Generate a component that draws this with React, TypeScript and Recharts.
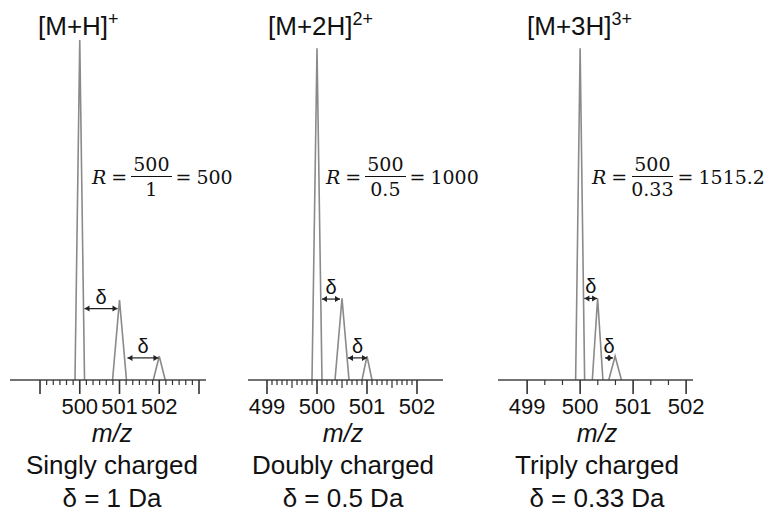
import React from "react"
import { LineChart, Line, XAxis, YAxis, ReferenceLine } from "recharts"

// ── Peaks: m/z position, relative intensity, half width (Da) ──
const PEAK_MZ_1 = [500, 501, 502]
const PEAK_INT_1 = [100, 23.5, 7]
const PEAK_HW_1 = [0.12, 0.175, 0.15]

const PEAK_MZ_2 = [500, 500.5, 501]
const PEAK_INT_2 = [97.6, 24, 7]
const PEAK_HW_2 = [0.1, 0.14, 0.1]

const PEAK_MZ_3 = [500, 500.33, 500.66]
const PEAK_INT_3 = [97.6, 24, 7]
const PEAK_HW_3 = [0.085, 0.1, 0.12]

// ── δ arrows: from m/z, to m/z, height ──
const ARROW_FROM_1 = [500.12, 501.2]
const ARROW_TO_1 = [500.95, 501.98]
const ARROW_Y_1 = [21, 6.5]

const ARROW_FROM_2 = [500.1, 500.62]
const ARROW_TO_2 = [500.46, 501.0]
const ARROW_Y_2 = [23.8, 6.5]

const ARROW_FROM_3 = [500.08, 500.47]
const ARROW_TO_3 = [500.32, 500.62]
const ARROW_Y_3 = [24, 6.5]

// ── Axes ──
const MAJOR_1 = [499, 500, 501, 502, 503]
const LABELS_1 = ["500", "501", "502"]
const MAJOR_2 = [499, 500, 501, 502]
const LABELS_2 = ["499", "500", "501", "502"]
const MAJOR_3 = [499, 500, 501, 502]
const LABELS_3 = ["499", "500", "501", "502"]

const TITLES = ["[M+H]", "[M+2H]", "[M+3H]"]
const CHARGES = ["+", "2+", "3+"]
const DENOMS = ["1", "0.5", "0.33"]
const RESOLUTIONS = ["500", "1000", "1515.2"]
const KINDS = ["Singly charged", "Doubly charged", "Triply charged"]
const DELTAS = ["δ = 1 Da", "δ = 0.5 Da", "δ = 0.33 Da"]

const PEAK_COLOR = "#8a8a8a"
const INK = "#111"
const SANS = "'Liberation Sans', Arial, sans-serif"

function buildTicks(majors: number[], sub: number) {
  const out: number[] = []
  for (let i = 0; i < majors.length - 1; i++) {
    for (let k = 0; k < sub; k++) out.push(+(majors[i] + k / sub).toFixed(4))
  }
  out.push(majors[majors.length - 1])
  return out
}

function peakPoints(mz: number[], int: number[], hw: number[]) {
  const pts: { mz: number; y: number | null }[] = []
  mz.forEach((m, i) => {
    if (i > 0) pts.push({ mz: (mz[i - 1] + m) / 2, y: null })
    pts.push({ mz: m - hw[i], y: 0 }, { mz: m, y: int[i] }, { mz: m + hw[i], y: 0 })
  })
  return pts
}

const ArrowShape = (props: any) => {
  const { x1, y1, x2 } = props
  const y = y1
  const h = 5
  return (
    <g>
      <line x1={x1} y1={y} x2={x2} y2={y} stroke="#222" strokeWidth={1.2} />
      <polygon points={`${x1},${y} ${x1 + h},${y - 3} ${x1 + h},${y + 3}`} fill="#222" />
      <polygon points={`${x2},${y} ${x2 - h},${y - 3} ${x2 - h},${y + 3}`} fill="#222" />
      <text x={(x1 + x2) / 2} y={y - 5} textAnchor="middle" fontSize={20} fontFamily={SANS} fill={INK}>
        δ
      </text>
    </g>
  )
}

const PAD_L = 20
const PAD_R = 30

function Spectrum({ left, width, domain, majors, labels, sub, mz, int, hw, from, to, ay }: any) {
  const data = peakPoints(mz, int, hw)
  const ticks = buildTicks(majors, sub)
  const renderTick = (p: any) => {
    const v = p.payload.value
    const major = Math.abs(v - Math.round(v)) < 1e-6
    const half = sub === 10 && Math.abs(v - Math.floor(v) - 0.5) < 1e-6
    const len = major ? 14 : half ? 8 : 5
    const label = String(Math.round(v))
    return (
      <g>
        <line x1={p.x} y1={p.y} x2={p.x} y2={p.y + len} stroke="#333" strokeWidth={major ? 1.6 : 1.2} />
        {major && labels.includes(label) && (
          <text x={p.x} y={p.y + 34} textAnchor="middle" fontSize={22} fontFamily={SANS} fill={INK}>
            {label}
          </text>
        )}
      </g>
    )
  }
  return (
    <div style={{ position: "absolute", left: left - PAD_L, top: 0 }}>
      <LineChart
        width={width + PAD_L + PAD_R}
        height={512}
        data={data}
        margin={{ top: 40, right: PAD_R, bottom: 102, left: PAD_L }}
      >
        <XAxis
          dataKey="mz"
          type="number"
          domain={domain}
          allowDataOverflow
          ticks={ticks}
          interval={0}
          tickSize={0}
          tickMargin={0}
          tickLine={false}
          tick={renderTick}
          height={30}
          axisLine={{ stroke: "#444", strokeWidth: 1.5 }}
        />
        <YAxis hide domain={[0, 100]} />
        <Line
          dataKey="y"
          type="linear"
          stroke={PEAK_COLOR}
          strokeWidth={1.6}
          dot={false}
          activeDot={false}
          isAnimationActive={false}
        />
        {from.map((f: number, i: number) => (
          <ReferenceLine
            key={i}
            segment={[{ x: f, y: ay[i] }, { x: to[i], y: ay[i] }]}
            shape={ArrowShape}
          />
        ))}
      </LineChart>
    </div>
  )
}

function Formula({ left, denom, result }: { left: number; denom: string; result: string }) {
  return (
    <div
      style={{
        position: "absolute",
        left,
        top: 152,
        display: "flex",
        alignItems: "center",
        fontFamily: "'DejaVu Serif', serif",
        fontSize: 19,
        color: INK,
        lineHeight: "24px",
      }}
    >
      <span style={{ fontStyle: "italic" }}>R</span>
      <span style={{ margin: "0 4px 0 5px" }}>=</span>
      <span style={{ display: "inline-flex", flexDirection: "column", alignItems: "center" }}>
        <span style={{ borderBottom: "1.5px solid #111", padding: "0 2px" }}>500</span>
        <span>{denom}</span>
      </span>
      <span style={{ margin: "0 5px 0 4px" }}>=</span>
      <span>{result}</span>
    </div>
  )
}

const CENTERS = [112, 343, 597]
const TITLE_LEFT = [38, 268, 527]
const FORMULA_LEFT = [92, 326, 592]

export default function App() {
  return (
    <div style={{ position: "absolute", left: 0, top: 0, width: 772, height: 512, background: "#fff", fontFamily: SANS, color: INK }}>
      <Spectrum left={10} width={196} domain={[498.245, 503.176]} majors={MAJOR_1} labels={LABELS_1} sub={6}
        mz={PEAK_MZ_1} int={PEAK_INT_1} hw={PEAK_HW_1} from={ARROW_FROM_1} to={ARROW_TO_1} ay={ARROW_Y_1} />
      <Spectrum left={248} width={195} domain={[498.62, 502.52]} majors={MAJOR_2} labels={LABELS_2} sub={10}
        mz={PEAK_MZ_2} int={PEAK_INT_2} hw={PEAK_HW_2} from={ARROW_FROM_2} to={ARROW_TO_2} ay={ARROW_Y_2} />
      <Spectrum left={498} width={195} domain={[498.45, 502.13]} majors={MAJOR_3} labels={LABELS_3} sub={3}
        mz={PEAK_MZ_3} int={PEAK_INT_3} hw={PEAK_HW_3} from={ARROW_FROM_3} to={ARROW_TO_3} ay={ARROW_Y_3} />

      {TITLES.map((t, i) => (
        <div key={t} style={{ position: "absolute", left: TITLE_LEFT[i], top: 13, fontSize: 26, lineHeight: "26px", whiteSpace: "nowrap" }}>
          {t}
          <span style={{ fontSize: 18, position: "relative", top: -10 }}>{CHARGES[i]}</span>
        </div>
      ))}

      {DENOMS.map((d, i) => (
        <Formula key={d} left={FORMULA_LEFT[i]} denom={d} result={RESOLUTIONS[i]} />
      ))}

      {CENTERS.map((c, i) => (
        <div key={i} style={{ position: "absolute", left: c - 120, width: 240, top: 0, textAlign: "center" }}>
          <div style={{ position: "absolute", top: 420, width: 240, fontSize: 25, fontStyle: "italic", lineHeight: "26px" }}>m/z</div>
          <div style={{ position: "absolute", top: 451, width: 240, fontSize: 26, lineHeight: "28px" }}>{KINDS[i]}</div>
          <div style={{ position: "absolute", top: 484, width: 240, fontSize: 26, lineHeight: "28px" }}>{DELTAS[i]}</div>
        </div>
      ))}
    </div>
  )
}
